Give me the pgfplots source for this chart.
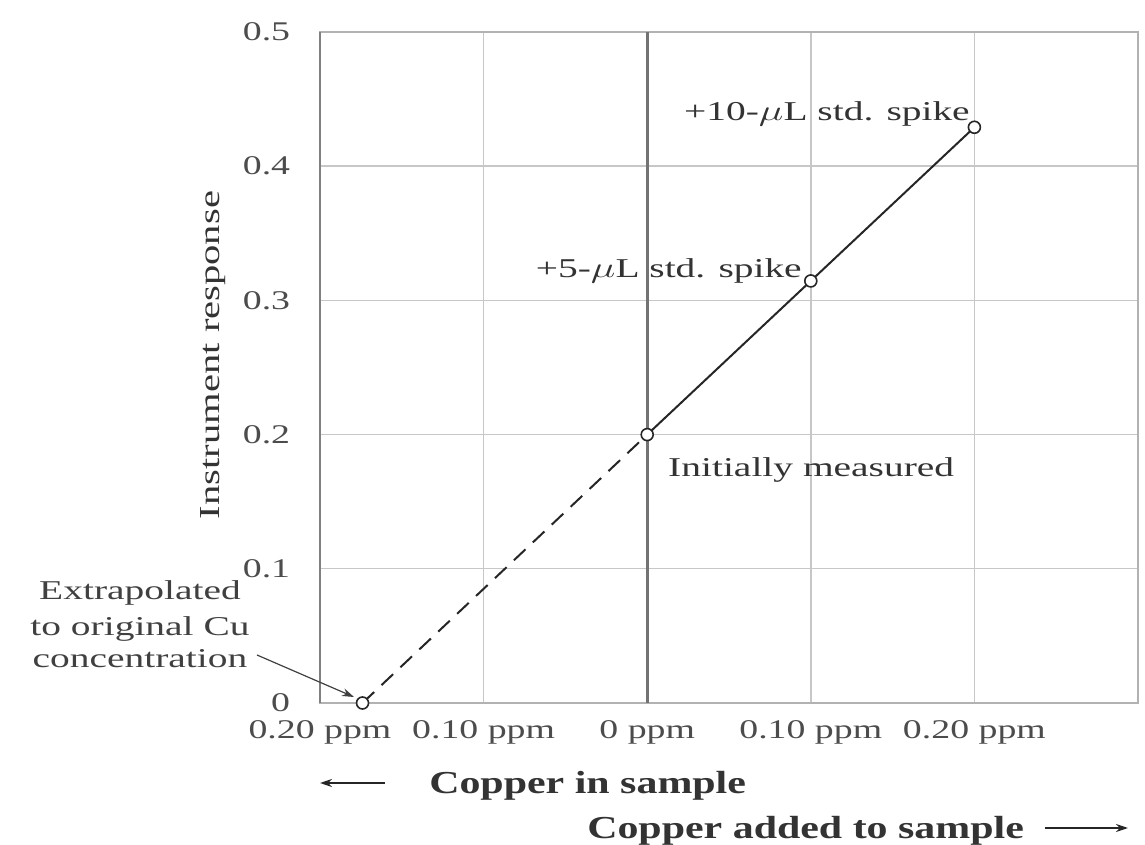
\documentclass[border=0pt]{standalone}
\usepackage{fontspec}
\setmainfont{Liberation Serif}
\usepackage{pgfplots}
\pgfplotsset{compat=1.18}
\usetikzlibrary{arrows.meta}
\newcommand{\fs}[1]{\fontsize{#1}{#1}\selectfont}
\begin{document}
\begin{tikzpicture}
\useasboundingbox (-160pt,-71pt) rectangle (412.5pt,351.5pt);
\begin{axis}[
  scale only axis, width=409pt, height=335.5pt,
  xmin=-0.2, xmax=0.3, ymin=0, ymax=0.5,
  xtick={-0.2,-0.1,0,0.1,0.2,0.3},
  xticklabels={0.20 ppm,0.10 ppm,0 ppm,0.10 ppm,0.20 ppm,},
  ytick={0,0.1,0.2,0.3,0.4,0.5},
  yticklabels={0,0.1,0.2,0.3,0.4,0.5},
  grid=major,
  major grid style={draw=black!22, line width=0.7pt},
  axis line style={draw=black!30, line width=0.8pt},
  major tick length=0pt,
  xticklabel style={font=\fs{13.5}, text=black!70, yshift=-5pt, xscale=1.4},
  yticklabel style={font=\fs{13.5}, text=black!70, xshift=-10pt, xscale=1.4},
  clip=false,
]
\draw[black!55, line width=1.6pt] (axis cs:0,0) -- (axis cs:0,0.5);
\draw[black!50, line width=1pt] (axis cs:-0.2,0) -- (axis cs:-0.2,0.5);
\addplot[black!85, line width=1pt, dash pattern=on 8pt off 5pt, no marks] coordinates {(-0.174,0) (0,0.2)};
\addplot[black!85, line width=1pt, mark=*, mark size=3pt, mark options={solid, fill=white, draw=black!85, line width=0.8pt}] coordinates {(0,0.2) (0.1,0.3145) (0.2,0.429)};
\addplot[only marks, mark=*, mark size=3pt, mark options={solid, fill=white, draw=black!85, line width=0.8pt}] coordinates {(-0.174,0)};
\end{axis}
% y label
\node[font=\fs{14.5}, text=black!80, rotate=90, xscale=1.4] at (-53.5pt,174pt) {Instrument response};
% annotations
\node[font=\fs{13.6}, text=black!80, anchor=base east, xscale=1.45] at (330pt,291pt) {+10-$\mu$L std. spike};
\node[font=\fs{13.6}, text=black!80, anchor=base east, xscale=1.45] at (246pt,212.5pt) {+5-$\mu$L std. spike};
\node[font=\fs{13.6}, text=black!80, anchor=base west, xscale=1.45] at (169pt,113pt) {Initially measured};
\node[font=\fs{13.6}, text=black!75, anchor=base, xscale=1.45] at (-90pt,51.5pt) {Extrapolated};
\node[font=\fs{13.6}, text=black!75, anchor=base, xscale=1.45] at (-90pt,33.5pt) {to original Cu};
\node[font=\fs{13.6}, text=black!75, anchor=base, xscale=1.45] at (-90pt,17.5pt) {concentration};
\draw[black!75, line width=0.6pt, -{Stealth[length=6pt,width=4pt]}] (-31.5pt,24pt) -- (17pt,3pt);
% x axis captions
\draw[black!85, line width=0.9pt, -{Stealth[length=6pt,width=4pt]}] (32.5pt,-40pt) -- (0pt,-40pt);
\node[font=\bfseries\fs{16}, text=black!80, anchor=base west, xscale=1.31] at (50pt,-45.5pt) {Copper in sample};
\node[font=\bfseries\fs{16}, text=black!80, anchor=base west, xscale=1.31] at (129pt,-67.5pt) {Copper added to sample};
\draw[black!85, line width=0.9pt, -{Stealth[length=6pt,width=4pt]}] (362.5pt,-62.5pt) -- (404pt,-62.5pt);
\end{tikzpicture}
\end{document}
